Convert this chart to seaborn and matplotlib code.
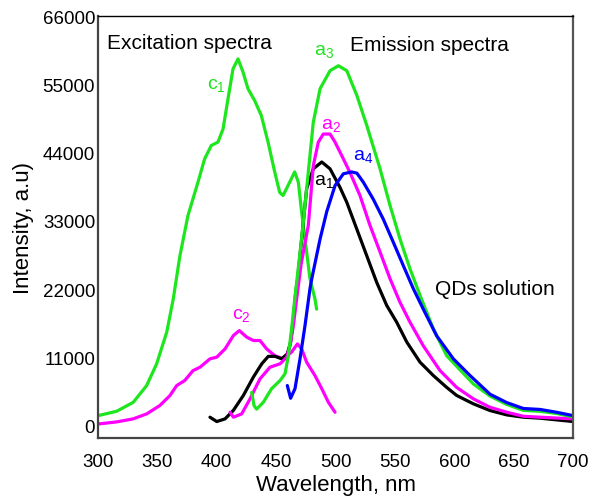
import numpy as np
import pandas as pd
import matplotlib
matplotlib.use("Agg")
import matplotlib.pyplot as plt
from matplotlib.ticker import MultipleLocator
import seaborn as sns

# ---- data ----
c1_x = [300, 315.7, 329.7, 341, 349.4, 357.9, 363.4, 369, 375.8, 384.2, 389.8, 395.4, 401, 405.3, 409.5, 413.7, 417.9, 422.1, 426.3, 431.9, 437.5, 443.2, 448.8, 453, 455.8, 460, 465.6, 468.7, 471.5, 474.3, 478.5, 482.7, 484.1]
c1_y = [1650, 2350, 3800, 6500, 10000, 15100, 20450, 27400, 33900, 39250, 43000, 45150, 45700, 47800, 52700, 57500, 59100, 57000, 54300, 52400, 50000, 45700, 40900, 37600, 37100, 38700, 40900, 39250, 34400, 30100, 23700, 20450, 18800]

c2_x = [300, 315.7, 329.6, 341, 352, 360.6, 366.3, 373, 380, 385.9, 394.3, 400, 407, 414, 419, 425.2, 430.8, 436.4, 442, 449, 456.1, 463.1, 467.9, 471.5, 475.7, 482.7, 488.4, 494, 499.6]
c2_y = [300, 640, 1130, 1930, 3270, 4880, 6500, 7300, 8900, 9450, 10800, 11070, 12400, 14550, 15350, 14300, 13750, 13750, 12400, 11300, 10800, 11900, 13200, 12400, 10250, 8100, 6000, 3800, 2200]

a1_x = [394.3, 400, 407, 414, 422.4, 430.8, 437.9, 443.4, 449, 454.7, 459.4, 462.2, 464.5, 466.5, 468.1, 471.5, 475.7, 481.3, 488.4, 495.4, 503.8, 509.5, 517.9, 526.3, 534.7, 543.1, 551.5, 560, 571.2, 582.4, 593.6, 602, 616.1, 630.1, 644.2, 658.2, 672.2, 700]
a1_y = [1400, 700, 1130, 2500, 4900, 7850, 10000, 11200, 11200, 10800, 11600, 13500, 17200, 21500, 23700, 30100, 38200, 41400, 42500, 41400, 38400, 36000, 31700, 27400, 23100, 19400, 16700, 13500, 10250, 8100, 6200, 4900, 3550, 2470, 1770, 1400, 1240, 700]

a2_x = [411.2, 414, 421, 428, 436.4, 444.8, 453.3, 458.9, 461.7, 464.5, 467, 471, 477.1, 481.3, 485.5, 489.7, 495.4, 499.6, 506.6, 512.2, 520.6, 529, 537.5, 545.9, 554.3, 562.7, 573.9, 588, 602, 616.1, 630.1, 644.2, 658.2, 672.2, 700]
a2_y = [2200, 1400, 1930, 4350, 7570, 9450, 10000, 11070, 12900, 16150, 20000, 26000, 32300, 41900, 45700, 47000, 47000, 45700, 43000, 40800, 37100, 32300, 28000, 23700, 19900, 16700, 12900, 8900, 6200, 4350, 3000, 2200, 1550, 1400, 1130]

a3_x = [429.4, 431.4, 433.6, 439.2, 446.2, 453.3, 457.5, 460.3, 463, 466, 469, 473, 477.1, 481.3, 487, 495.4, 502.4, 509.5, 518, 526.3, 537.5, 545.9, 554.3, 562.7, 571.2, 582.4, 593.6, 602, 616.1, 630.1, 644.2, 658.2, 672.2, 686, 700]
a3_y = [5400, 3270, 2700, 3800, 6000, 7300, 8400, 11300, 15600, 21000, 26000, 33000, 40900, 48900, 54300, 57200, 58000, 57200, 53200, 48400, 41400, 35500, 30100, 25300, 21000, 15600, 11300, 9600, 6750, 4800, 3450, 2500, 2350, 2000, 1450]

a4_x = [459.4, 462.2, 465.9, 470.1, 474.3, 478.5, 480, 487, 492.6, 499.6, 506.6, 513.6, 518, 523.4, 531.8, 540.2, 548.6, 557.1, 565.5, 573.9, 585.2, 599.2, 613.3, 630.1, 644.2, 658.2, 672.2, 686, 700]
a4_y = [6500, 4450, 6000, 10800, 16150, 22100, 23700, 30100, 34500, 38700, 40600, 40900, 40700, 39250, 36500, 33300, 29600, 25800, 22100, 18800, 14500, 10800, 8100, 5100, 3750, 2800, 2650, 2200, 1650]

x_ticks = [300, 350, 400, 450, 500, 550, 600, 650, 700]
y_ticks = [0, 11000, 22000, 33000, 44000, 55000, 66000]

GREEN = "#1ee61e"
MAGENTA = "#ff00ff"
BLUE = "#0000ff"
BLACK = "#000000"

sns.set_style("white")
plt.rcParams["font.family"] = ["Liberation Sans", "DejaVu Sans"]
plt.rcParams["text.color"] = "black"
plt.rcParams["axes.labelcolor"] = "black"
plt.rcParams["mathtext.fontset"] = "custom"
plt.rcParams["mathtext.rm"] = "Liberation Sans"
plt.rcParams["mathtext.it"] = "Liberation Sans"
plt.rcParams["mathtext.bf"] = "Liberation Sans"

fig = plt.figure(figsize=(5.92, 5.02), dpi=100)
ax = fig.add_axes([0.1655, 0.1255, 0.8025, 0.8405])

curves = [
    (c1_x, c1_y, GREEN),
    (c2_x, c2_y, MAGENTA),
    (a1_x, a1_y, BLACK),
    (a2_x, a2_y, MAGENTA),
    (a3_x, a3_y, GREEN),
    (a4_x, a4_y, BLUE),
]
for xs, ys, col in curves:
    df = pd.DataFrame({"x": xs, "y": ys})
    sns.lineplot(data=df, x="x", y="y", ax=ax, color=col, linewidth=2.3,
                 sort=False, estimator=None, solid_joinstyle="round",
                 solid_capstyle="round")

ax.set_xlim(300, 700)
ax.set_ylim(-1950, 66000)
ax.set_xticks(x_ticks)
ax.set_yticks(y_ticks)
ax.set_yticklabels([str(v) for v in y_ticks])
ax.xaxis.set_minor_locator(MultipleLocator(25))
ax.yaxis.set_minor_locator(MultipleLocator(5500))
ax.tick_params(axis="y", which="major", direction="out", length=5, width=1.2,
               pad=-3, labelsize=13.5, colors="#333333", labelcolor="black")
ax.tick_params(axis="y", which="minor", direction="out", length=3, width=1.2, colors="#333333")
ax.tick_params(axis="x", which="major", direction="out", length=6, width=1.2,
               pad=5, labelsize=13.5, colors="#333333", labelcolor="black")
ax.tick_params(axis="x", which="minor", direction="out", length=4, width=1.2, colors="#333333")
ax.tick_params(top=False, right=False)

for side in ["left", "bottom"]:
    ax.spines[side].set_color("#444444")
    ax.spines[side].set_linewidth(1.6)
ax.spines["top"].set_color("black")
ax.spines["top"].set_linewidth(1.0)
ax.spines["right"].set_color("#555555")
ax.spines["right"].set_linewidth(1.6)

ax.set_xlabel("Wavelength, nm", fontsize=16, labelpad=3)
ax.set_ylabel("Intensity, a.u)", fontsize=16, labelpad=6)

ax.text(308, 61700, "Excitation spectra", fontsize=15, va="center", ha="left")
ax.text(512, 61500, "Emission spectra", fontsize=15, va="center", ha="left")
ax.text(584, 22100, "QDs solution", fontsize=15, va="center", ha="left")

lab_fs = 14
ax.text(391.8, 54900, "c$_1$", color=GREEN, fontsize=lab_fs, ha="left", va="center")
ax.text(481.9, 60400, "a$_3$", color=GREEN, fontsize=lab_fs, ha="left", va="center")
ax.text(487.8, 48600, "a$_2$", color=MAGENTA, fontsize=lab_fs, ha="left", va="center")
ax.text(514.7, 43500, "a$_4$", color=BLUE, fontsize=lab_fs, ha="left", va="center")
ax.text(481.9, 39500, "a$_1$", color=BLACK, fontsize=lab_fs, ha="left", va="center")
ax.text(412.8, 18000, "c$_2$", color=MAGENTA, fontsize=lab_fs, ha="left", va="center")

fig.savefig("out.png", dpi=100)
